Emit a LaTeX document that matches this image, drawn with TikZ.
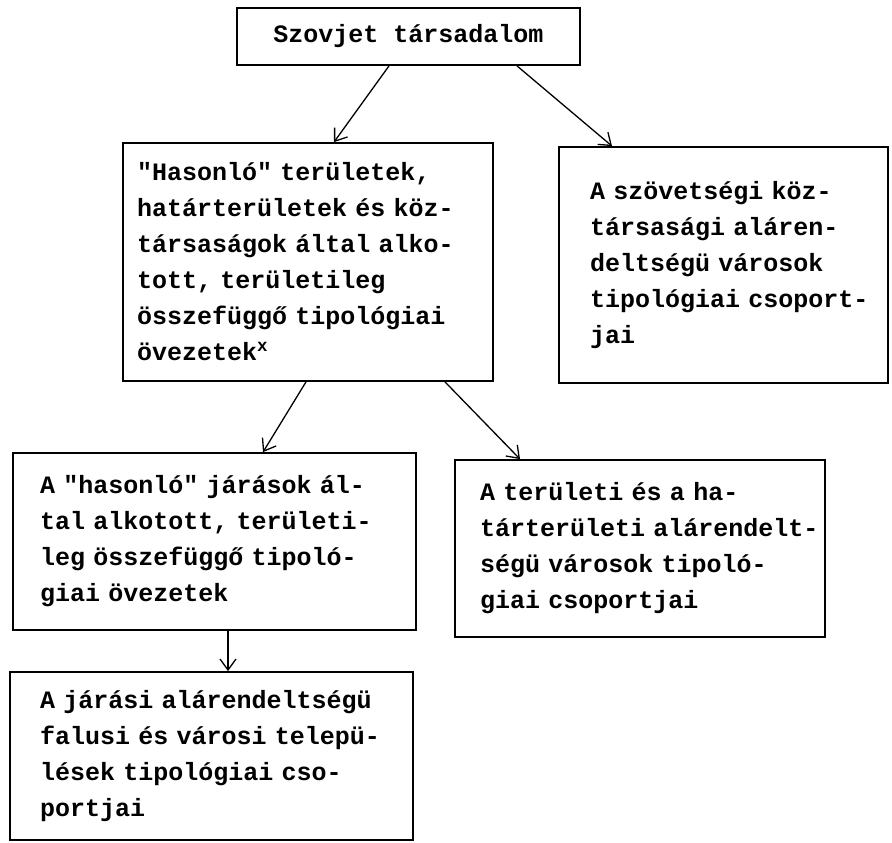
\documentclass[tikz,border=0pt]{standalone}
\usepackage{fontspec}
\setmonofont{Liberation Mono}
\usepackage{tikz}
\usetikzlibrary{arrows.meta}

\begin{document}
\begin{tikzpicture}[x=1pt,y=1pt,
  box/.style={draw,line width=1.8pt,inner sep=0pt,align=left,
    font=\ttfamily\bfseries\fontsize{25}{36}\selectfont},
  link/.style={line width=1.3pt,-{Straight Barb[length=11pt,width=16pt,line width=1.3pt]}}]
\useasboundingbox (0,0) rectangle (892,-843);
% boxes, centres and sizes (1pt = 1px)
\node[box,minimum width=343,minimum height=57,align=center] (soc) at (408.5,-36.5) {Szovjet társadalom};
\node[box,minimum width=370,minimum height=238,text width=342] (zones) at (308,-262)
  {"Hasonló" területek,\\határterületek és köz-\\társaságok által alko-\\tott, területileg\\összefüggő tipológiai\\övezetek\textsuperscript{x}};
\node[box,minimum width=329,minimum height=236,text width=267] (repcity) at (723.5,-265)
  {A szövetségi köz-\\társasági aláren-\\deltségü városok\\tipológiai~csoport-\\jai};
\node[box,minimum width=403,minimum height=177,text width=349] (district) at (214.5,-541.5)
  {A "hasonló" járások ál-\\tal alkotott, területi-\\leg összefüggő tipoló-\\giai övezetek};
\node[box,minimum width=370,minimum height=177,text width=320] (regcity) at (640,-548.5)
  {A területi és a ha-\\tárterületi~alárendelt-\\ségü városok tipoló-\\giai csoportjai};
\node[box,minimum width=403,minimum height=168,text width=343] (settle) at (211.5,-756)
  {A~járási~alárendeltségü\\falusi és városi telepü-\\lések tipológiai cso-\\portjai};

\draw[link] ([xshift=-19.5]soc.south) -- ([xshift=26]zones.north);
\draw[link] ([xshift=108.5]soc.south) -- ([xshift=-111.5]repcity.north);
\draw[link] ([xshift=-2]zones.south) -- ([xshift=48.5]district.north);
\draw[link] ([xshift=137]zones.south) -- ([xshift=-120]regcity.north);
\draw[link] ([xshift=13.5]district.south) -- ([xshift=16.5]settle.north);
\end{tikzpicture}
\end{document}
